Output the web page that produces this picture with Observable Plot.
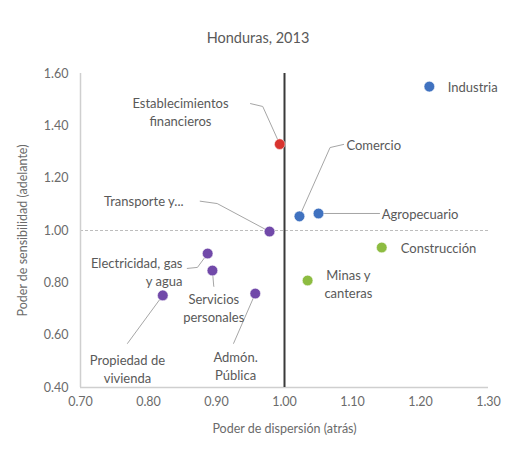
<!DOCTYPE html>
<html><head><meta charset="utf-8">
<script src="https://cdn.jsdelivr.net/npm/d3@7"></script>
<script src="https://cdn.jsdelivr.net/npm/@observablehq/plot@0.6"></script>
<style>
body{margin:0;background:#fff;font-family:Lato,"Open Sans",sans-serif;}
#title{height:50px;box-sizing:border-box;padding-top:30px;text-align:center;font-size:14.5px;line-height:16px;color:#595959;width:508px;padding-left:8px;}
</style></head><body>
<div id="title">Honduras, 2013</div>
<div id="chart"></div>
<script>
const sectors = ["Industria","Establecimientos financieros","Comercio","Agropecuario","Transporte y...","Construcción","Minas y canteras","Electricidad, gas y agua","Servicios personales","Propiedad de vivienda","Admón. Pública"];
const dispersion = [1.213,0.993,1.022,1.050,0.978,1.143,1.034,0.887,0.894,0.821,0.957];
const sensibilidad = [1.55,1.33,1.054,1.065,0.996,0.935,0.809,0.912,0.847,0.752,0.759];
const groups = ["azul","rojo","azul","azul","morado","verde","verde","morado","morado","morado","morado"];
const groupColors = {azul:"#4072c0",rojo:"#d8332e",morado:"#7149a9",verde:"#8dbc41"};
// label text, position (data units) and anchor
const labelText = ["Industria","Establecimientos\nfinancieros","Comercio","Agropecuario","Transporte y...","Construcción","Minas y\ncanteras","Electricidad, gas\ny agua","Servicios\npersonales","Propiedad de\nvivienda","Admón.\nPública"];
const labelX = [1.240,0.847,1.091,1.143,0.793,1.171,1.094,0.850,0.896,0.769,0.928];
const labelY = [1.55,1.455,1.33,1.065,1.115,0.935,0.80,0.843,0.706,0.473,0.484];
const labelAnchor = ["start","middle","start","start","middle","start","middle","end","middle","middle","middle"];
// leader lines: start and elbow (data units); null = no leader
const leadStartX = [null,0.950,1.087,1.052,0.876,null,null,0.857,0.896,0.769,0.925];
const leadStartY = [null,1.485,1.329,1.065,1.112,null,null,0.855,0.786,0.568,0.568];
const leadElbowX = [null,0.968,1.067,1.140,0.901,null,null,0.872,0.896,0.769,0.925];
const leadElbowY = [null,1.474,1.317,1.065,1.103,null,null,0.859,0.786,0.568,0.568];
const xTicks = [0.70,0.80,0.90,1.00,1.10,1.20,1.30];
const yTicks = [0.40,0.60,0.80,1.00,1.20,1.40,1.60];

const pts = sectors.map((s,i)=>({s,x:dispersion[i],y:sensibilidad[i],c:groupColors[groups[i]],t:labelText[i],lx:labelX[i],ly:labelY[i],a:labelAnchor[i]}));
const leaders = [];
sectors.forEach((s,i)=>{
  if (leadStartX[i]==null) return;
  leaders.push({s,x:leadStartX[i],y:leadStartY[i],o:0});
  leaders.push({s,x:leadElbowX[i],y:leadElbowY[i],o:1});
  leaders.push({s,x:dispersion[i],y:sensibilidad[i],o:2});
});
const txtCol = "#595959";
const fontFam = "Lato, 'Open Sans', sans-serif";
const textMark = (anchor) => Plot.text(pts.filter(d=>d.a===anchor),{x:"lx",y:"ly",text:"t",textAnchor:anchor,fill:txtCol,fontSize:13,lineHeight:1.38,fontFamily:fontFam});

const chart = Plot.plot({
  width:508, height:405,
  marginLeft:80, marginRight:20, marginTop:23, marginBottom:68,
  style:{fontFamily:fontFam, color:txtCol, fontSize:"12px", background:"#fff"},
  x:{domain:[0.70,1.30]},
  y:{domain:[0.40,1.60]},
  marks:[
    Plot.ruleY([1.00],{stroke:"#bdbdbd",strokeDasharray:"3,2",strokeWidth:1}),
    Plot.ruleX([0.70],{stroke:"#cfcfcf",strokeWidth:1.5}),
    Plot.ruleY([0.40],{stroke:"#cfcfcf",strokeWidth:1.5}),
    Plot.ruleX([1.00],{stroke:"#3a3a3a",strokeWidth:2}),
    Plot.axisX({ticks:xTicks, tickFormat:d3.format(".2f"), tickSize:0, tickPadding:10, fontSize:12.5, fill:"#6b6b6b", label:"Poder de dispersión (atrás)", labelAnchor:"center", labelOffset:45, labelArrow:"none"}),
    Plot.axisY({ticks:yTicks, tickFormat:d3.format(".2f"), tickSize:0, tickPadding:12, fontSize:12.5, fill:"#6b6b6b", label:"Poder de sensibilidad (adelante)", labelAnchor:"center", labelOffset:62, labelArrow:"none"}),
    Plot.line(leaders,{x:"x",y:"y",z:"s",sort:"o",stroke:"#a6a6a6",strokeWidth:1}),
    Plot.dot(pts,{x:"x",y:"y",fill:"c",r:5.3,stroke:"#ffffff",strokeOpacity:0.5,strokeWidth:1}),
    textMark("start"), textMark("middle"), textMark("end")
  ]
});
document.getElementById("chart").append(chart);
</script></body></html>
